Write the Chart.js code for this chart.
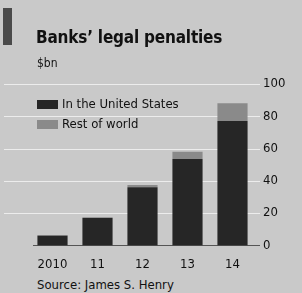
<!DOCTYPE html>
<html>
<head>
<meta charset="utf-8">
<script src="https://cdn.jsdelivr.net/npm/chart.js@4"></script>
<style>
  body { margin: 0; background: #c9c9c9; font-family: "DejaVu Sans Condensed", "DejaVu Sans", sans-serif; color: #111; }
  #wrap { position: relative; width: 302px; height: 293px; overflow: hidden; }
  #chart { position: absolute; left: 0; top: 0; }
  .tag { position: absolute; left: 3px; top: 8px; width: 9px; height: 37px; background: #4a4a4a; }
  .title { position: absolute; left: 36px; top: 27px; font-size: 17px; font-weight: bold; letter-spacing: -0.2px; }
  .sub { position: absolute; left: 37px; top: 56px; font-size: 12px; }
  .legend { position: absolute; left: 37px; font-size: 13px; line-height: 14px; }
  .legend span { display: inline-block; width: 21px; height: 9px; margin-right: 4px; vertical-align: -1px; }
  .source { position: absolute; left: 37px; top: 277px; font-size: 13px; }
</style>
</head>
<body>
<div id="wrap">
  <canvas id="chart" width="302" height="275"></canvas>
  <div class="tag"></div>
  <div class="title">Banks’ legal penalties</div>
  <div class="sub">$bn</div>
  <div class="legend" style="top:97px"><span style="background:#262626"></span>In the United States</div>
  <div class="legend" style="top:117px"><span style="background:#8a8a8a"></span>Rest of world</div>
  <div class="source">Source: James S. Henry</div>
</div>
<script>
const years = ['2010', '11', '12', '13', '14'];
const unitedStates = [6, 17, 36, 53.5, 77];
const restOfWorld = [0.5, 0.5, 1.5, 4.5, 11];
const yTicks = [0, 20, 40, 60, 80, 100];

// light gridlines across the whole width, dark zero line
const gridPlugin = {
  id: 'grid',
  beforeDatasetsDraw(chart) {
    const ctx = chart.ctx;
    const y = chart.scales.y;
    ctx.save();
    yTicks.forEach(v => {
      const py = Math.round(y.getPixelForValue(v)) + 0.5;
      ctx.beginPath();
      if (v === 0) {
        ctx.strokeStyle = '#555';
        ctx.moveTo(33, py);
      } else {
        ctx.strokeStyle = '#ececec';
        ctx.moveTo(4, py);
      }
      ctx.lineTo(260, py);
      ctx.lineWidth = 1;
      ctx.stroke();
    });
    ctx.restore();
  }
};

new Chart(document.getElementById('chart').getContext('2d'), {
  type: 'bar',
  data: {
    labels: years,
    datasets: [
      { label: 'In the United States', data: unitedStates, backgroundColor: '#262626' },
      { label: 'Rest of world', data: restOfWorld, backgroundColor: '#8a8a8a' }
    ]
  },
  options: {
    responsive: false,
    animation: false,
    layout: { padding: { left: 30, right: 0, top: 84, bottom: 0 } },
    plugins: { legend: { display: false }, tooltip: { enabled: false } },
    datasets: { bar: { barPercentage: 0.67, categoryPercentage: 1 } },
    scales: {
      x: {
        stacked: true,
        grid: { display: false },
        border: { display: false },
        ticks: { color: '#111', font: { family: 'DejaVu Sans Condensed', size: 13 }, padding: 3 }
      },
      y: {
        stacked: true,
        position: 'right',
        min: 0,
        max: 100,
        afterBuildTicks: axis => { axis.ticks = yTicks.map(v => ({ value: v })); },
        afterFit: axis => { axis.width = 47; },
        grid: { display: false },
        border: { display: false },
        ticks: { color: '#111', font: { family: 'DejaVu Sans Condensed', size: 13 }, padding: 0 }
      }
    }
  },
  plugins: [gridPlugin]
});
</script>
</body>
</html>
